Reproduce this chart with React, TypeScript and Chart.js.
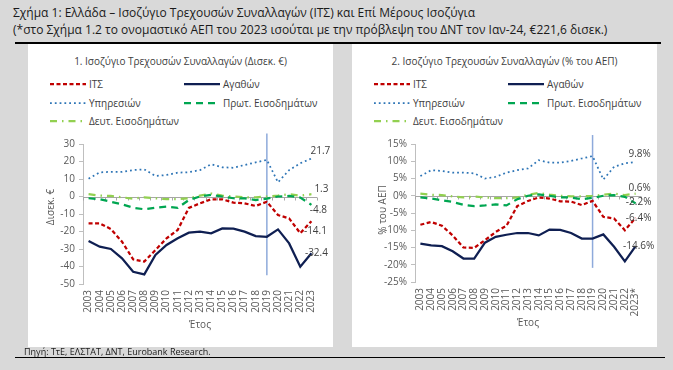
import React, { useEffect, useRef } from "react";
import { Chart, registerables } from "chart.js";
Chart.register(...registerables);

const YEARS = ["2003","2004","2005","2006","2007","2008","2009","2010","2011","2012","2013","2014","2015","2016","2017","2018","2019","2020","2021","2022","2023"];
const YEARS_GDP = ["2003","2004","2005","2006","2007","2008","2009","2010","2011","2012","2013","2014","2015","2016","2017","2018","2019","2020","2021","2022","2023*"];

const SERIES_NAMES = ["ΙΤΣ", "Αγαθών", "Υπηρεσιών", "Πρωτ. Εισοδημάτων", "Δευτ. Εισοδημάτων"];

// Panel 1: € billions
const ITS_BN = [-15.3, -15.3, -18.6, -25.8, -35.9, -37.2, -30.6, -23.9, -19.1, -6.5, -3.9, -1.6, -1.6, -3.5, -3.9, -5.4, -3.0, -10.6, -12.5, -21.0, -14.1];
const GOODS_BN = [-25.4, -28.7, -30.0, -35.3, -43.0, -44.5, -33.4, -27.7, -23.9, -20.7, -20.1, -21.0, -18.2, -18.4, -20.1, -22.6, -23.0, -18.8, -26.8, -40.1, -32.4];
const SERVICES_BN = [10.2, 13.8, 14.1, 14.1, 15.1, 15.5, 11.7, 12.3, 13.6, 13.9, 15.1, 18.4, 16.7, 16.4, 18.0, 19.5, 20.9, 8.1, 15.1, 19.0, 21.7];
const PRIMARY_BN = [-1.0, -1.5, -3.0, -4.5, -6.4, -7.3, -6.4, -5.8, -6.5, -2.0, 0.0, 0.9, 0.0, -1.0, -1.1, -2.0, -1.2, 0.0, 0.3, -0.6, -4.8];
const SECONDARY_BN = [1.3, 0.5, 0.3, -0.5, -1.2, -0.5, -1.0, -1.5, -1.5, -1.0, 0.5, 1.7, 0.5, 0.0, -0.5, -0.5, 0.0, 0.5, 1.3, 0.5, 1.3];

// Panel 2: % of GDP
const ITS_PCT = [-8.4, -7.6, -8.7, -11.5, -15.0, -15.1, -12.9, -10.5, -8.7, -3.0, -1.5, -0.5, -0.8, -1.6, -1.7, -2.7, -1.5, -6.1, -6.6, -10.0, -6.4];
const GOODS_PCT = [-13.9, -14.4, -14.6, -16.1, -18.2, -18.2, -13.6, -11.9, -11.3, -10.8, -10.8, -11.5, -9.8, -9.9, -10.8, -12.4, -12.4, -11.2, -14.8, -19.0, -14.6];
const SERVICES_PCT = [5.7, 7.4, 7.2, 6.7, 6.7, 6.5, 5.0, 5.5, 6.7, 7.4, 7.9, 10.3, 9.6, 9.6, 10.1, 10.8, 11.5, 4.7, 8.4, 9.4, 9.8];
const PRIMARY_PCT = [-0.5, -0.8, -1.3, -1.8, -2.6, -3.0, -2.8, -2.5, -2.8, -1.0, 0.0, 0.4, 0.0, -0.5, -0.5, -1.0, -0.6, 0.0, 0.2, -0.3, -2.2];
const SECONDARY_PCT = [0.6, 0.3, 0.2, -0.2, -0.5, -0.2, -0.5, -0.7, -0.7, -0.5, 0.3, 0.8, 0.3, 0.0, -0.2, -0.2, 0.0, 0.3, 0.6, 0.2, 0.6];

const Y_BN = { min: -50, max: 30, step: 10 };
const Y_PCT = { min: -25, max: 15, step: 5 };

const MARK_YEAR = "2019";

const FONT = "'Open Sans', 'DejaVu Sans', sans-serif";
const TEXT = "#595959";

const STYLES = [
  { color: "#c00000", width: 2.25, dash: [4, 2.5] },
  { color: "#0f1f52", width: 2.25, dash: [] as number[] },
  { color: "#2e75b6", width: 1.75, dash: [1.8, 3] },
  { color: "#00a651", width: 2.25, dash: [7, 5] },
  { color: "#92d050", width: 2.25, dash: [7, 5, 1.5, 5] },
];

type Spec = {
  left: number;
  top: number;
  labels: string[];
  series: number[][];
  y: { min: number; max: number; step: number };
  suffix: string;
  yW: number;
  xH: number;
  padRight: number;
  yTitle: string;
  vTop: number;
  vBottom: number;
  endLabelPos: { dx: number; dy: number }[];
  yTitleDy: number;
};

const overlay = {
  id: "overlay",
  beforeDatasetsDraw(chart: any) {
    const spec: Spec = chart.options.plugins.overlay.spec;
    const { ctx, chartArea } = chart;
    const xs = chart.scales.x;
    const ys = chart.scales.y;
    ctx.save();
    // zero line
    const y0 = Math.round(ys.getPixelForValue(0)) + 0.5;
    ctx.strokeStyle = "#a6a6a6";
    ctx.lineWidth = 1;
    ctx.beginPath();
    ctx.moveTo(chartArea.left, y0);
    ctx.lineTo(chartArea.right, y0);
    const n = spec.labels.length;
    const step = (chartArea.right - chartArea.left) / n;
    for (let i = 0; i <= n; i++) {
      const x = Math.round(chartArea.left + i * step) + 0.5;
      ctx.moveTo(x, y0);
      ctx.lineTo(x, y0 + 3);
    }
    ctx.stroke();
    // vertical marker
    const idx = spec.labels.findIndex((l) => l.startsWith(MARK_YEAR));
    const vx = xs.getPixelForValue(idx);
    ctx.strokeStyle = "#8eaadb";
    ctx.lineWidth = 1.5;
    ctx.beginPath();
    ctx.moveTo(vx, ys.getPixelForValue(spec.vTop));
    ctx.lineTo(vx, ys.getPixelForValue(spec.vBottom));
    ctx.stroke();
    ctx.restore();
  },
  afterDraw(chart: any) {
    const spec: Spec = chart.options.plugins.overlay.spec;
    const { ctx, chartArea } = chart;
    const xs = chart.scales.x;
    const ys = chart.scales.y;
    ctx.save();
    ctx.fillStyle = "#404040";
    ctx.font = `10px ${FONT}`;
    ctx.textAlign = "center";
    ctx.textBaseline = "middle";
    const last = spec.labels.length - 1;
    spec.series.forEach((s, i) => {
      const v = s[last];
      const px = xs.getPixelForValue(last) + spec.endLabelPos[i].dx;
      const py = ys.getPixelForValue(v) + spec.endLabelPos[i].dy;
      ctx.fillText(v.toFixed(1) + spec.suffix, px, py);
    });
    // axis titles
    ctx.fillStyle = TEXT;
    ctx.font = `10px ${FONT}`;
    ctx.fillText("Έτος", (chartArea.left + chartArea.right) / 2, chartArea.bottom + 41);
    ctx.translate(chartArea.left - 32, (chartArea.top + chartArea.bottom) / 2 + spec.yTitleDy);
    ctx.rotate(-Math.PI / 2);
    ctx.fillText(spec.yTitle, 0, 0);
    ctx.restore();
  },
};

function ChartPanel({ spec }: { spec: Spec }) {
  const ref = useRef<HTMLCanvasElement>(null);
  useEffect(() => {
    const canvas = ref.current!;
    const chart = new Chart(canvas, {
      type: "line",
      data: {
        labels: spec.labels,
        datasets: spec.series.map((d, i) => ({
          label: SERIES_NAMES[i],
          data: d,
          borderColor: STYLES[i].color,
          borderWidth: STYLES[i].width,
          borderDash: STYLES[i].dash,
          pointRadius: 0,
          fill: false,
          tension: 0,
        })),
      },
      options: {
        responsive: false,
        animation: false,
        maintainAspectRatio: false,
        layout: { padding: { top: 14, right: spec.padRight, left: 0, bottom: 0 } },
        plugins: {
          legend: { display: false },
          tooltip: { enabled: false },
          title: { display: false },
          // @ts-ignore
          overlay: { spec },
        },
        scales: {
          x: {
            type: "category",
            offset: true,
            grid: { display: false, drawTicks: false },
            border: { display: false },
            ticks: {
              autoSkip: false,
              minRotation: 90,
              maxRotation: 90,
              padding: 6,
              color: TEXT,
              font: { family: FONT, size: 10 },
            },
            afterFit: (s: any) => {
              s.height = spec.xH;
            },
          },
          y: {
            min: spec.y.min,
            max: spec.y.max,
            ticks: {
              stepSize: spec.y.step,
              padding: 4,
              color: TEXT,
              font: { family: FONT, size: 10 },
              callback: (v: any) => `${v}${spec.suffix}`,
            },
            grid: { display: true, drawOnChartArea: false, drawTicks: true, tickLength: 4, color: "#bfbfbf" },
            border: { display: true, color: "#bfbfbf" },
            afterFit: (s: any) => {
              s.width = spec.yW;
            },
          },
        },
      },
      plugins: [overlay],
    });
    return () => chart.destroy();
  }, []);
  return (
    <canvas
      ref={ref}
      width={305}
      height={217}
      style={{ position: "absolute", left: spec.left, top: spec.top, width: 305, height: 217 }}
    />
  );
}

function LegendSample({ i }: { i: number }) {
  const s = STYLES[i];
  return (
    <svg width={36} height={6} style={{ display: "block" }}>
      <line
        x1={0}
        y1={3}
        x2={36}
        y2={3}
        stroke={s.color}
        strokeWidth={s.width}
        strokeDasharray={s.dash.length ? s.dash.join(" ") : undefined}
      />
    </svg>
  );
}

function Panel({ x, title }: { x: number; title: string }) {
  const rows = [
    [0, 1],
    [2, 3],
    [4],
  ];
  return (
    <div style={{ position: "absolute", left: x, top: 44, width: 305, height: 303, background: "#ffffff" }}>
      <div
        style={{
          position: "absolute",
          left: 0,
          width: 305,
          top: 10,
          textAlign: "center",
          fontSize: 10,
          color: "#404040",
          fontFamily: FONT,
          lineHeight: "14px",
          whiteSpace: "nowrap",
        }}
      >
        {title}
      </div>
      {rows.map((r, ri) =>
        r.map((si, ci) => (
          <div
            key={`${ri}-${ci}`}
            style={{
              position: "absolute",
              left: ci === 0 ? 22 : 156,
              top: 33 + ri * 18.5,
              display: "flex",
              alignItems: "center",
              gap: 3,
              fontSize: 10,
              color: "#404040",
              fontFamily: FONT,
              lineHeight: "14px",
              whiteSpace: "nowrap",
            }}
          >
            <LegendSample i={si} />
            <span>{SERIES_NAMES[si]}</span>
          </div>
        ))
      )}
    </div>
  );
}

const SPEC_BN: Spec = {
  left: 28,
  top: 130,
  labels: YEARS,
  series: [ITS_BN, GOODS_BN, SERVICES_BN, PRIMARY_BN, SECONDARY_BN],
  y: Y_BN,
  suffix: "",
  yW: 55,
  xH: 63,
  padRight: 16,
  yTitle: "Δισεκ. €",
  vTop: 36,
  vBottom: -45,
  endLabelPos: [
    { dx: 4, dy: 10 },
    { dx: 5, dy: 0 },
    { dx: 9, dy: -7.5 },
    { dx: 7, dy: 5 },
    { dx: 10, dy: -5 },
  ],
  yTitleDy: -7,
};

const SPEC_PCT: Spec = {
  left: 352,
  top: 130,
  labels: YEARS_GDP,
  series: [ITS_PCT, GOODS_PCT, SERVICES_PCT, PRIMARY_PCT, SECONDARY_PCT],
  y: Y_PCT,
  suffix: "%",
  yW: 63,
  xH: 65,
  padRight: 16,
  yTitle: "% του ΑΕΠ",
  vTop: 17.6,
  vBottom: -20.9,
  endLabelPos: [
    { dx: 3, dy: 0 },
    { dx: 3, dy: 0 },
    { dx: 4, dy: -8 },
    { dx: 3, dy: -1.5 },
    { dx: 4, dy: -6 },
  ],
  yTitleDy: -3,
};

export default function App() {
  return (
    <div
      style={{
        position: "fixed",
        left: 0,
        top: 0,
        width: 673,
        height: 370,
        background: "#d9d9d9",
        fontFamily: FONT,
        overflow: "hidden",
      }}
    >
      <div style={{ position: "absolute", left: 13, top: 4, fontSize: 12, lineHeight: "17px", color: "#1a1a1a", whiteSpace: "nowrap" }}>
        Σχήμα 1: Ελλάδα – Ισοζύγιο Τρεχουσών Συναλλαγών (ΙΤΣ) και Επί Μέρους Ισοζύγια
      </div>
      <div style={{ position: "absolute", left: 13, top: 21, fontSize: 12, lineHeight: "17px", color: "#1a1a1a", whiteSpace: "nowrap" }}>
        (*στο Σχήμα 1.2 το ονομαστικό ΑΕΠ του 2023 ισούται με την πρόβλεψη του ΔΝΤ τον Ιαν-24, €221,6 δισεκ.)
      </div>
      <div style={{ position: "absolute", left: 15, top: 42, width: 646, height: 1.5, background: "#000" }} />
      <Panel x={28} title="1. Ισοζύγιο Τρεχουσών Συναλλαγών (Δισεκ. €)" />
      <Panel x={352} title="2. Ισοζύγιο Τρεχουσών Συναλλαγών (% του ΑΕΠ)" />
      <ChartPanel spec={SPEC_BN} />
      <ChartPanel spec={SPEC_PCT} />
      <div style={{ position: "absolute", left: 24, top: 345, fontSize: 9, lineHeight: "13px", color: "#1a1a1a", whiteSpace: "nowrap" }}>
        Πηγή: ΤτΕ, ΕΛΣΤΑΤ, ΔΝΤ, Eurobank Research.
      </div>
      <div style={{ position: "absolute", left: 15, top: 357, width: 650, height: 1, background: "#000" }} />
    </div>
  );
}
